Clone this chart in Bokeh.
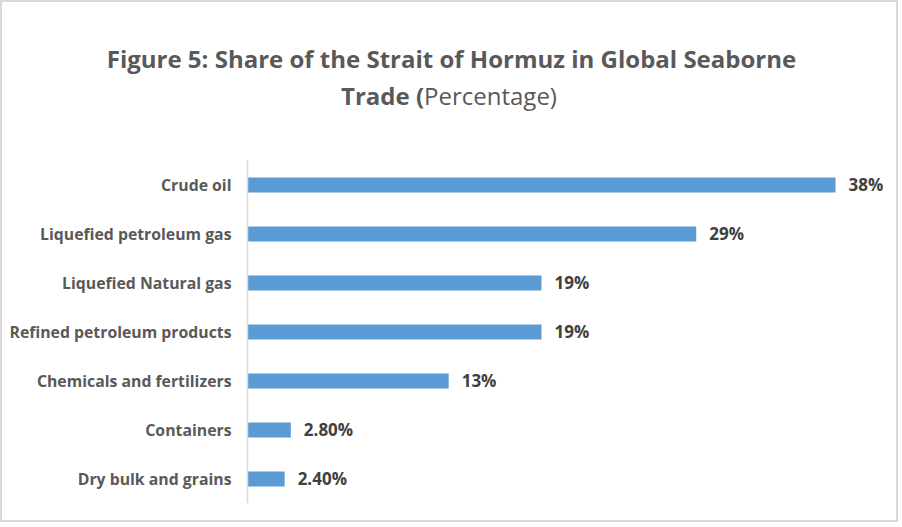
from bokeh.plotting import figure
from bokeh.models import ColumnDataSource, Range1d, Label, LabelSet, FixedTicker
from bokeh.core.properties import value
from bokeh.embed import file_html
from bokeh.resources import INLINE

categories = ["Crude oil", "Liquefied petroleum gas", "Liquefied Natural gas",
              "Refined petroleum products", "Chemicals and fertilizers",
              "Containers", "Dry bulk and grains"]
values = [38, 29, 19, 19, 13, 2.8, 2.4]
value_labels = ["38%", "29%", "19%", "19%", "13%", "2.80%", "2.40%"]

title_line1 = "Figure 5: Share of the Strait of Hormuz in Global Seaborne"
title_line2_bold = "Trade ("
title_line2_normal = "Percentage)"

FONT = "Open Sans"
n = len(categories)
positions = [n - 1 - i for i in range(n)]  # top-to-bottom order

source = ColumnDataSource(dict(pos=positions, val=values, lab=value_labels))

W, H = 898, 522
p = figure(width=W, height=H, x_range=Range1d(-15.833, 42.2), y_range=Range1d(-0.5, 9.357),
           output_backend="svg", toolbar_location=None, title=None,
           min_border_left=0, min_border_right=0,
           min_border_top=18, min_border_bottom=21)
p.styles = {"border": "2px solid #d9d9d9"}
p.outline_line_color = None
p.background_fill_color = "white"
p.border_fill_color = "white"
p.xgrid.visible = False
p.ygrid.visible = False
p.xaxis.visible = False

p.hbar(y="pos", right="val", left=0, height=0.31, source=source,
       fill_color="#5b9bd5", line_color=None)

labels = LabelSet(x="val", y="pos", text="lab", source=source, x_offset=13,
                  text_baseline="middle", text_align="left",
                  text_font=value(FONT), text_font_style="bold", text_font_size="17px",
                  text_color="#404040")
p.add_layout(labels)

ax = p.yaxis[0]
ax.fixed_location = 0
ax.ticker = FixedTicker(ticks=positions)
ax.major_label_overrides = {pos: cat for pos, cat in zip(positions, categories)}
ax.bounds = (-0.5, n - 0.5)
ax.axis_line_color = "#d9d9d9"
ax.axis_line_width = 1.5
ax.major_tick_line_color = None
ax.minor_tick_line_color = None
ax.major_label_standoff = 10
ax.major_label_text_font = FONT
ax.major_label_text_font_style = "bold"
ax.major_label_text_font_size = "15.8px"
ax.major_label_text_color = "#595959"

p.add_layout(Label(x=13.18, y=8.582, text=title_line1, text_align="center",
                   text_baseline="alphabetic", text_font=FONT, text_font_style="bold",
                   text_font_size="24px", text_color="#595959"))
p.add_layout(Label(x=11.41, y=7.827, text=title_line2_bold, text_align="right",
                   text_baseline="alphabetic", text_font=FONT, text_font_style="bold",
                   text_font_size="24px", text_color="#595959"))
p.add_layout(Label(x=11.41, y=7.827, text=title_line2_normal, text_align="left",
                   text_baseline="alphabetic", text_font=FONT, text_font_style="normal",
                   text_font_size="24px", text_color="#595959"))

open("out.html", "w").write(file_html(p, INLINE))
